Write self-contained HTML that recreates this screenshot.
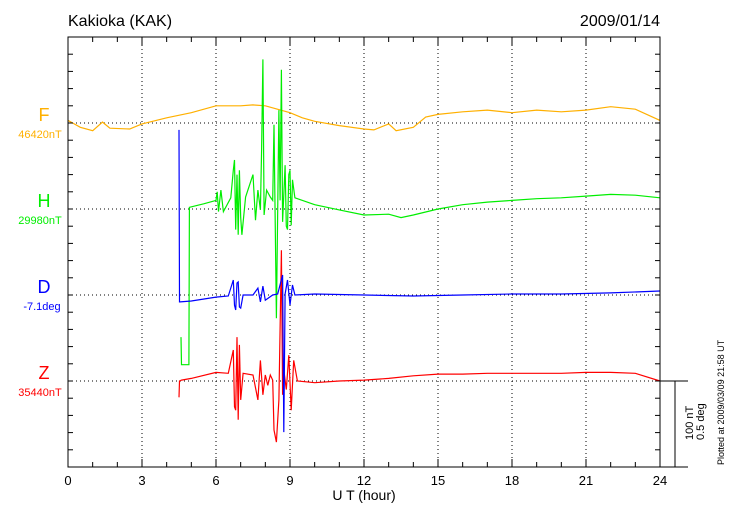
<!DOCTYPE html>
<html><head><meta charset="utf-8"><style>
body{margin:0;background:#fff;width:730px;height:520px;overflow:hidden}
svg{font-family:"Liberation Sans",sans-serif}
</style></head><body>
<svg id="chart" width="730" height="520">
<text x="68" y="26" font-size="16">Kakioka (KAK)</text>
<text x="660" y="26" font-size="16" text-anchor="end">2009/01/14</text>
<g id="grid"></g>
<g id="series"></g>
<rect x="68" y="37" width="592" height="430" fill="none" stroke="#000" stroke-width="1"/>
<g id="xticks"></g>
<text x="364" y="500" font-size="14" text-anchor="middle">U T (hour)</text>
<text x="44" y="121" font-size="18" fill="#ffb000" text-anchor="middle">F</text>
<text x="40" y="138" font-size="11" fill="#ffb000" text-anchor="middle">46420nT</text>
<text x="44" y="207" font-size="18" fill="#00ee00" text-anchor="middle">H</text>
<text x="40" y="224" font-size="11" fill="#00ee00" text-anchor="middle">29980nT</text>
<text x="44" y="293" font-size="18" fill="#0000ff" text-anchor="middle">D</text>
<text x="42" y="310" font-size="11" fill="#0000ff" text-anchor="middle">-7.1deg</text>
<text x="44" y="379" font-size="18" fill="#ff0000" text-anchor="middle">Z</text>
<text x="40" y="396" font-size="11" fill="#ff0000" text-anchor="middle">35440nT</text>
<g>
<line x1="660" y1="381" x2="688" y2="381" stroke="#000"/>
<line x1="660" y1="467" x2="688" y2="467" stroke="#000"/>
<line x1="675" y1="381" x2="675" y2="467" stroke="#000"/>
</g>
<text transform="translate(693,440) rotate(-90)" font-size="11">100 nT</text>
<text transform="translate(704,440) rotate(-90)" font-size="11">0.5 deg</text>
<text transform="translate(724,465) rotate(-90)" font-size="9">Plotted at 2009/03/09 21:58 UT</text>
</svg>
<script>
const fT=[0,0.5,1,1.4,1.7,2.5,3,4,5,6,7,7.5,8,9,9.5,10,11,12,12.4,13,13.3,14,14.5,15,16,17,18,19,20,21,22,23,24];
const fV=[3,-5,-9,1,-6,-7,-1,6,12,20,20,21,20,12,6,2,-3,-7,-8,-1,-9,-5,7,10,13,15,12,15,13,15,19,16,3];
const hT=[4.58,4.6,4.9,4.92,5.5,6,6.05,6.1,6.2,6.3,6.6,6.7,6.75,6.8,6.85,6.9,6.95,7,7.05,7.2,7.5,7.6,7.7,7.8,7.85,7.9,7.95,8.05,8.2,8.3,8.35,8.45,8.55,8.6,8.65,8.7,8.8,8.85,8.9,8.95,9,9.05,9.1,9.2,10,11,12,13,13.5,14,15,16,17,18,19,20,21,22,23,24];
const hV=[-149,-181,-181,2,6,10,20,-3,22,-3,13,45,57,-24,40,-30,45,-10,-30,14,40,-13,22,-1,69,174,-7,22,14,10,98,-127,115,10,162,-15,51,-20,-24,40,45,-19,34,13,5,-1,-7,-6,-10,-7,0,5,8,10,12,13,15,17,16,13];
const dT=[4.5,4.52,4.55,5,6,6.5,6.7,6.75,6.8,6.85,6.9,6.95,7,7.1,7.5,7.7,7.8,7.9,8,8.3,8.5,8.7,8.75,8.8,8.9,9,9.1,9.2,10,12,14,16,18,20,22,24];
const dV=[0.96,-0.04,-0.04,-0.035,-0.012,-0.006,0.087,-0.06,-0.087,0.07,0.076,-0.07,-0.076,0,0,0.04,-0.04,0.052,-0.03,0,0.006,0.116,-0.797,0.006,0.087,-0.058,0.058,0,0.006,0,-0.006,0,0.006,0.006,0.012,0.023];
const zT=[4.5,4.52,4.6,5,6,6.5,6.7,6.75,6.8,6.85,6.9,6.95,7,7.1,7.5,7.7,7.8,7.9,8,8.1,8.2,8.3,8.35,8.45,8.55,8.65,8.7,8.75,8.85,8.95,9.05,9.15,9.3,10,11,12,13,14,15,16,17,18,19,20,21,22,23,24];
const zV=[-19,0,1,3,10,9,36,-30,-34,51,-45,42,-22,9,7,-22,24,-16,7,-5,7,1,-57,-71,-22,152,-16,13,-10,30,-34,24,0,-2,0,1,3,6,8,8,9,9,9,9,10,10,9,0];
const xTickLabels=["0","3","6","9","12","15","18","21","24"];
const x0=68,x1=660,pxPerNT=0.86,pxPerDeg=172;
const X=t=>x0+(x1-x0)*t/24;
const NS='http://www.w3.org/2000/svg';
const grid=document.getElementById('grid'),xt=document.getElementById('xticks'),sg=document.getElementById('series');
function mk(tag,attrs,parent){const e=document.createElementNS(NS,tag);for(const k in attrs)e.setAttribute(k,attrs[k]);parent.appendChild(e);return e;}
xTickLabels.forEach((lab,i)=>{const x=X(+lab);
 if(i>0&&i<8){const g=mk('line',{x1:x,y1:37,x2:x,y2:467,stroke:'#000','stroke-dasharray':'1,3'},grid);
 
 }
 const t=mk('text',{x:x,y:485,'font-size':13,'text-anchor':'middle'},xt);t.textContent=lab;
 
 });
for(let h=1;h<24;h++){const x=X(h),L=h%3?5:8;
 mk('line',{x1:x,y1:37,x2:x,y2:37+L,stroke:'#000'},xt);mk('line',{x1:x,y1:467,x2:x,y2:467-L,stroke:'#000'},xt);}
for(let y=37+17.2;y<467;y+=17.2){mk('line',{x1:68,y1:y,x2:73,y2:y,stroke:'#000'},xt);mk('line',{x1:660,y1:y,x2:655,y2:y,stroke:'#000'},xt);}
[123,209,295,381].forEach(y=>{const g=mk('line',{x1:68,y1:y,x2:660,y2:y,stroke:'#000','stroke-dasharray':'1,3'},grid);
 
 });
function draw(T,V,base,scale,color,name){
 const d=T.map((t,i)=>(i?'L':'M')+X(t).toFixed(1)+','+(base-V[i]*scale).toFixed(1)).join('');
 const p=mk('path',{d:d,fill:'none',stroke:color,'stroke-width':1.2},sg);
 
 }
draw(fT,fV,123,pxPerNT,'#ffb000','f-series');
draw(hT,hV,209,pxPerNT,'#00ee00','h-series');
draw(zT,zV,381,pxPerNT,'#ff0000','z-series');
draw(dT,dV,295,pxPerDeg,'#0000ff','d-series');
</script>
</body></html>
